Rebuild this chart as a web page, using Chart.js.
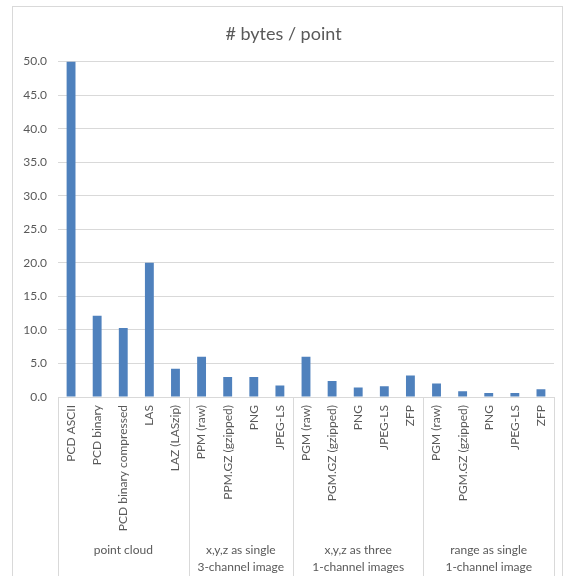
<!DOCTYPE html>
<html>
<head>
<meta charset="UTF-8">
<title># bytes / point</title>
<style>
    body { margin: 0; background: #fff; }
    #wrap { width: 566px; height: 576px; position: relative; }
</style>
</head>
<body>
<div id="wrap"><canvas id="chart"></canvas></div>

<script src="https://cdn.jsdelivr.net/npm/chart.js"></script>
<script>
    // data
    const categories = [
        'PCD ASCII', 'PCD binary', 'PCD binary compressed', 'LAS', 'LAZ (LASzip)',
        'PPM (raw)', 'PPM.GZ (gzipped)', 'PNG', 'JPEG-LS',
        'PGM (raw)', 'PGM.GZ (gzipped)', 'PNG', 'JPEG-LS', 'ZFP',
        'PGM (raw)', 'PGM.GZ (gzipped)', 'PNG', 'JPEG-LS', 'ZFP'
    ];
    const bytesPerPoint = [
        50.0, 12.1, 10.3, 20.0, 4.2,
        6.0, 3.0, 3.0, 1.7,
        6.0, 2.4, 1.4, 1.6, 3.2,
        2.0, 0.85, 0.6, 0.6, 1.15
    ];
    const groupNames = [
        ['point cloud'],
        ['x,y,z as single', '3-channel image'],
        ['x,y,z as three', '1-channel images'],
        ['range as single', '1-channel image']
    ];
    const groupSizes = [5, 4, 5, 5];
    const yTicks = [0, 5, 10, 15, 20, 25, 30, 35, 40, 45, 50];

    const textColor = '#595959';
    const lineColor = '#d9d9d9';
    const fontFamily = 'Lato, "Open Sans", sans-serif';

    // frame, group labels and the separators under the category axis
    const excelAxis = {
        id: 'excelAxis',
        beforeDraw(chart) {
            const ctx = chart.ctx;
            ctx.save();
            ctx.strokeStyle = lineColor;
            ctx.lineWidth = 1;
            ctx.strokeRect(12.5, 6.5, 550, 600);
            ctx.restore();
        },
        afterDraw(chart) {
            const ctx = chart.ctx;
            const x = chart.scales.x;
            const top = chart.chartArea.bottom;
            const bottom = chart.height;
            ctx.save();
            ctx.strokeStyle = lineColor;
            ctx.lineWidth = 1;
            ctx.fillStyle = textColor;
            ctx.font = '12px ' + fontFamily;
            ctx.textAlign = 'center';
            ctx.textBaseline = 'middle';

            let start = 0;
            const edges = [x.getPixelForValue(-0.5)];
            groupSizes.forEach((size, g) => {
                const left = x.getPixelForValue(start - 0.5);
                const right = x.getPixelForValue(start + size - 0.5);
                edges.push(right);
                groupNames[g].forEach((line, i) => {
                    ctx.fillText(line, (left + right) / 2, top + 153 + i * 17);
                });
                start += size;
            });
            edges.forEach(px => {
                const p = Math.round(px) + 0.5;
                ctx.beginPath();
                ctx.moveTo(p, top);
                ctx.lineTo(p, bottom);
                ctx.stroke();
            });
            ctx.restore();
        }
    };

    new Chart(document.getElementById('chart'), {
        type: 'bar',
        data: {
            labels: categories,
            datasets: [{
                label: '# bytes / point',
                data: bytesPerPoint,
                backgroundColor: '#4F81BD',
                barPercentage: 0.34,
                categoryPercentage: 1.0
            }]
        },
        options: {
            responsive: true,
            maintainAspectRatio: false,
            animation: false,
            layout: { padding: { left: 13, right: 12, top: 6, bottom: 0 } },
            plugins: {
                legend: { display: false },
                tooltip: { enabled: false },
                title: {
                    display: true,
                    text: '# bytes / point',
                    color: textColor,
                    font: { family: fontFamily, size: 18, weight: 'normal' },
                    padding: { top: 17, bottom: 17 }
                }
            },
            scales: {
                x: {
                    grid: { display: false, drawTicks: false },
                    border: { display: true, color: lineColor, width: 1 },
                    ticks: {
                        autoSkip: false,
                        minRotation: 90,
                        maxRotation: 90,
                        padding: 8,
                        color: textColor,
                        font: { family: fontFamily, size: 12 }
                    },
                    afterFit(scale) { scale.height = 179; }
                },
                y: {
                    min: 0,
                    max: 50,
                    afterBuildTicks(scale) { scale.ticks = yTicks.map(v => ({ value: v })); },
                    grid: { color: lineColor, drawTicks: false },
                    border: { display: false },
                    ticks: {
                        padding: 11,
                        color: textColor,
                        font: { family: fontFamily, size: 12 },
                        callback: v => v.toFixed(1)
                    },
                    afterFit(scale) { scale.width = 45; }
                }
            }
        },
        plugins: [excelAxis]
    });
</script>
</body>
</html>
